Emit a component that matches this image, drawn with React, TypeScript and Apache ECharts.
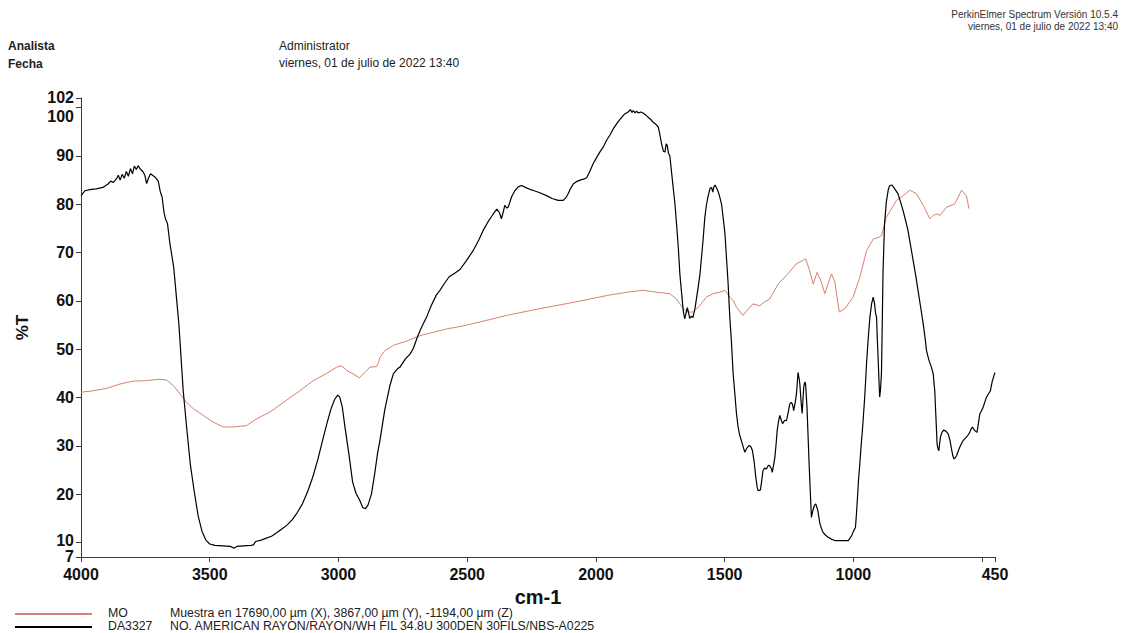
import React, { useEffect, useRef } from "react";
import * as echarts from "echarts";

// ---- Data ----
const daWavenumbers = [
  4000, 3985, 3960, 3940, 3915, 3895, 3885, 3875, 3862, 3855, 3848, 3840, 3832, 3824, 3816, 3808, 3800, 3793, 3785, 3778,
  3770, 3760, 3752, 3745, 3738, 3730, 3722, 3712, 3700, 3692, 3685, 3678, 3672, 3664, 3655, 3640, 3620, 3603, 3590, 3575,
  3560, 3545, 3530, 3515, 3500, 3480, 3450, 3420, 3405, 3395, 3370, 3340, 3330, 3322, 3300, 3280, 3260, 3240, 3220, 3200,
  3180, 3160, 3140, 3120, 3100, 3080, 3060, 3045, 3030, 3015, 3003, 2995, 2985, 2975, 2960, 2945, 2932, 2918, 2905, 2895,
  2885, 2872, 2860, 2848, 2839, 2820, 2800, 2787, 2770, 2761, 2740, 2722, 2710, 2690, 2675, 2658, 2640, 2620, 2606, 2590,
  2570, 2550, 2528, 2505, 2477, 2455, 2438, 2420, 2399, 2385, 2375, 2367, 2360, 2354, 2346, 2340, 2328, 2315, 2302, 2289,
  2270, 2257, 2240, 2218, 2192, 2170, 2147, 2127, 2115, 2108, 2098, 2088, 2075, 2062, 2048, 2036, 2024, 2011, 1998, 1985,
  1970, 1959, 1945, 1933, 1915, 1900, 1888, 1875, 1866, 1860, 1855, 1848, 1842, 1836, 1826, 1817, 1807, 1797, 1788, 1778,
  1768, 1758, 1752, 1745, 1738, 1732, 1727, 1723, 1718, 1713, 1706, 1700, 1693, 1687, 1680, 1674, 1667, 1661, 1655, 1650,
  1645, 1640, 1636, 1630, 1623, 1615, 1603, 1596, 1590, 1584, 1577, 1571, 1565, 1557, 1551, 1546, 1542, 1537, 1532, 1525,
  1519, 1512, 1506, 1499, 1493, 1487, 1480, 1474, 1467, 1460, 1454, 1448, 1442, 1435, 1428, 1422, 1413, 1405, 1398, 1392,
  1385, 1379, 1374, 1370, 1361, 1356, 1351, 1345, 1338, 1330, 1325, 1318, 1315, 1310, 1305, 1300, 1296, 1291, 1286, 1280,
  1275, 1267, 1260, 1253, 1247, 1241, 1236, 1232, 1226, 1221, 1218, 1215, 1211, 1208, 1203, 1199, 1196, 1193, 1189, 1186,
  1183, 1180, 1176, 1172, 1167, 1163, 1158, 1154, 1150, 1146, 1142, 1138, 1134, 1130, 1124, 1118, 1108, 1098, 1085, 1072,
  1050, 1035, 1020, 1013, 1007, 1000, 992, 988, 984, 980, 975, 970, 965, 960, 956, 952, 949, 943, 936, 929,
  923, 918, 914, 910, 907, 904, 901, 898, 895, 891, 888, 885, 882, 879, 872, 865, 860, 856, 851, 846,
  837, 827, 817, 807, 798, 788, 778, 768, 758, 749, 739, 729, 722, 716, 707, 697, 690, 684, 680, 677,
  675, 671, 668, 665, 662, 656, 649, 640, 632, 625, 619, 614, 610, 605, 599, 593, 587, 580, 574, 567,
  561, 554, 548, 543, 538, 533, 529, 525, 520, 514, 509, 503, 496, 490, 483, 475, 468, 464, 460, 457,
  454, 450,
];
const daTransmittance = [
  81.8, 82.8, 83.1, 83.2, 83.5, 84.2, 84.8, 84.5, 85.3, 86.0, 85.0, 86.2, 85.4, 86.8, 85.8, 87.4, 86.3, 87.9, 87.2, 88.0,
  87.3, 86.8, 86.0, 84.3, 85.4, 86.3, 86.0, 85.6, 84.8, 82.6, 81.5, 78.5, 77.0, 76.0, 72.0, 67.0, 55.3, 41.4, 34.0, 26.0,
  20.5, 15.5, 12.3, 10.5, 9.7, 9.4, 9.3, 9.2, 8.8, 9.2, 9.3, 9.4, 9.5, 10.2, 10.5, 10.9, 11.3, 12.0, 12.8, 13.6,
  14.7, 16.2, 18.0, 20.5, 23.5, 27.2, 31.5, 34.6, 37.5, 39.6, 40.5, 40.1, 38.0, 34.0, 28.5, 22.5, 20.2, 18.8, 17.2, 17.0,
  17.8, 20.0, 24.0, 28.5, 31.1, 37.5, 42.5, 44.9, 46.0, 46.3, 48.0, 49.0, 50.1, 53.0, 54.8, 56.6, 59.0, 61.2, 62.2, 63.5,
  65.0, 65.7, 66.5, 68.2, 70.4, 72.6, 74.6, 76.3, 78.0, 79.0, 78.3, 77.0, 78.4, 79.8, 79.2, 79.5, 81.5, 82.8, 83.6, 83.9,
  83.4, 83.1, 82.8, 82.4, 81.8, 81.2, 80.8, 80.8, 81.5, 82.2, 83.3, 84.2, 84.7, 85.0, 85.2, 85.5, 86.8, 88.4, 89.6, 90.8,
  92.0, 93.2, 94.4, 95.6, 97.0, 98.0, 98.7, 99.1, 99.6, 99.0, 99.4, 98.9, 99.3, 98.9, 99.1, 98.9, 98.5, 98.0, 97.6, 97.0,
  96.6, 96.0, 94.5, 92.5, 91.0, 90.8, 92.5, 92.2, 90.5, 90.1, 86.5, 83.5, 80.0, 76.0, 71.0, 65.6, 61.5, 58.0, 56.3, 57.5,
  58.6, 57.5, 56.4, 56.8, 56.6, 58.5, 62.8, 65.5, 69.0, 72.5, 77.3, 79.8, 81.5, 83.3, 83.5, 82.5, 83.6, 84.0, 83.4, 82.6,
  81.5, 80.0, 77.3, 74.0, 69.0, 64.0, 56.6, 51.8, 44.9, 40.5, 36.6, 34.0, 32.3, 31.1, 29.8, 28.7, 29.6, 30.1, 29.8, 29.0,
  26.5, 23.5, 21.5, 20.7, 20.9, 22.8, 24.9, 25.4, 25.2, 26.0, 25.9, 25.2, 24.5, 26.0, 27.6, 30.5, 33.2, 35.0, 36.3, 35.3,
  34.6, 35.3, 35.2, 37.0, 38.7, 39.0, 38.5, 37.3, 39.0, 40.8, 43.0, 45.2, 44.0, 42.8, 39.0, 36.7, 39.5, 42.1, 43.2, 43.0,
  40.5, 37.7, 32.0, 26.3, 20.0, 15.2, 16.5, 17.3, 17.8, 18.0, 17.3, 16.6, 15.2, 13.9, 12.9, 12.1, 11.5, 11.1, 10.7, 10.4,
  10.4, 10.4, 10.4, 10.9, 11.4, 12.3, 13.1, 16.0, 19.4, 23.0, 26.3, 30.0, 33.2, 37.0, 40.1, 44.0, 47.0, 51.8, 56.6, 59.5,
  60.8, 59.5, 57.5, 56.6, 52.0, 48.3, 44.0, 40.1, 41.5, 44.9, 55.0, 65.6, 71.0, 76.0, 80.5, 82.9, 83.8, 83.9, 84.0, 83.7,
  83.0, 82.2, 80.5, 78.7, 76.8, 74.6, 71.5, 68.4, 65.3, 62.2, 58.8, 55.3, 52.5, 49.7, 47.8, 46.3, 44.9, 41.4, 36.6, 33.0,
  30.4, 29.3, 29.0, 30.5, 31.8, 32.8, 33.3, 33.0, 32.5, 31.2, 29.4, 28.0, 27.3, 27.5, 28.0, 28.9, 29.7, 30.5, 31.1, 31.5,
  31.8, 32.3, 32.8, 33.5, 33.9, 33.5, 33.2, 33.0, 32.8, 34.8, 36.6, 37.2, 38.0, 39.0, 40.1, 40.8, 41.4, 42.5, 43.5, 44.0,
  44.6, 45.2,
];

const moWavenumbers = [
  4000, 3954, 3900, 3849, 3797, 3745, 3693, 3667, 3642, 3616, 3590, 3564, 3525, 3486, 3447, 3409, 3357, 3318, 3266, 3214,
  3150, 3098, 3046, 3007, 2988, 2968, 2943, 2919, 2897, 2878, 2852, 2845, 2839, 2820, 2787, 2735, 2684, 2632, 2580, 2528,
  2477, 2347, 2218, 2088, 1959, 1881, 1817, 1765, 1713, 1687, 1661, 1642, 1622, 1597, 1571, 1545, 1519, 1499, 1480, 1467,
  1454, 1429, 1410, 1390, 1364, 1345, 1325, 1292, 1260, 1221, 1195, 1185, 1172, 1156, 1141, 1125, 1111, 1085, 1072, 1055,
  1033, 1001, 975, 949, 923, 900, 891, 872, 833, 814, 781, 755, 729, 703, 690, 677, 664, 638, 606, 580,
  561, 551,
];
const moTransmittance = [
  41.1, 41.4, 41.9, 42.8, 43.4, 43.5, 43.8, 43.6, 42.5, 40.8, 39.0, 37.7, 36.3, 34.9, 33.9, 33.9, 34.2, 35.6, 37.0, 39.0,
  41.4, 43.5, 45.0, 46.3, 46.6, 45.6, 44.9, 44.1, 45.2, 46.3, 46.4, 47.2, 48.3, 49.7, 50.8, 51.7, 52.8, 53.5, 54.2, 54.7,
  55.3, 57.0, 58.4, 59.7, 61.1, 61.8, 62.2, 61.8, 61.5, 60.4, 58.4, 57.7, 57.7, 59.0, 60.8, 61.5, 61.8, 62.2, 60.8, 60.1,
  58.7, 57.0, 58.2, 59.4, 59.0, 59.8, 60.4, 63.5, 65.3, 67.7, 68.4, 68.7, 66.6, 63.5, 65.9, 64.0, 61.5, 65.6, 63.9, 57.7,
  58.4, 60.8, 64.9, 70.4, 72.8, 73.2, 73.5, 77.3, 80.8, 81.5, 82.9, 82.2, 79.8, 77.0, 77.7, 78.0, 77.7, 79.4, 80.1, 82.9,
  81.8, 79.1,
];

const xTickValues = [4000, 3500, 3000, 2500, 2000, 1500, 1000, 500, 450];
const xLabelValues = [4000, 3500, 3000, 2500, 2000, 1500, 1000, 450];
const yTickValues = [7, 10, 20, 30, 40, 50, 60, 70, 80, 90, 100, 102];
const yInnerLabels = [20, 30, 40, 50, 60, 70, 80, 90];
const yEndLabels = [7, 10, 100, 102];

const seriesNames = ["MO", "DA3327"];
const seriesDescriptions = [
  "Muestra en 17690,00 µm (X), 3867,00 µm (Y), -1194,00 µm (Z)",
  "NO. AMERICAN RAYON/RAYON/WH FIL 34.8U 300DEN 30FILS/NBS-A0225",
];

const RED = "#d4826c";
const AXIS = "#3a3a3a";
const TICK_FONT = "'Liberation Sans', Arial, sans-serif";

export default function App() {
  const ref = useRef<HTMLDivElement>(null);

  useEffect(() => {
    if (!ref.current) return;
    const chart = echarts.init(ref.current, null, { renderer: "svg" });
    const moData = moWavenumbers.map((w, i) => [w, moTransmittance[i]]);
    const daData = daWavenumbers.map((w, i) => [w, daTransmittance[i]]);

    const headerStyle = { fontFamily: TICK_FONT, fontSize: 12, fill: "#222" };
    const legendStyle = { fontFamily: TICK_FONT, fontSize: 12.3, fill: "#222" };
    const tickLabel = { fontFamily: TICK_FONT, fontSize: 16, fontWeight: "bold", color: "#111" };
    const endLabelStyle: Record<number, string> = { 7: "low", 10: "ten", 100: "mid", 102: "high" };

    chart.setOption({
      animation: false,
      backgroundColor: "#ffffff",
      grid: { left: 81, right: 127, top: 98, bottom: 76, containLabel: false },
      xAxis: {
        type: "value",
        min: 450,
        max: 4000,
        inverse: true,
        name: "cm-1",
        nameLocation: "middle",
        nameGap: 22,
        nameTextStyle: { fontFamily: TICK_FONT, fontSize: 20, fontWeight: "bold", color: "#111" },
        axisLine: { show: true, lineStyle: { color: AXIS, width: 1 } },
        axisTick: { show: true, inside: false, length: 5, customValues: xTickValues, lineStyle: { color: AXIS } },
        axisLabel: {
          customValues: xLabelValues,
          showMinLabel: true,
          showMaxLabel: true,
          hideOverlap: false,
          formatter: (v: number) => String(v),
          margin: 9,
          ...tickLabel,
        },
        splitLine: { show: false },
      },
      yAxis: [
        {
          type: "value",
          min: 7,
          max: 102,
          name: "%T",
          nameLocation: "middle",
          nameRotate: 90,
          nameGap: 50,
          nameTextStyle: { fontFamily: TICK_FONT, fontSize: 17, fontWeight: "bold", color: "#111" },
          axisLine: { show: true, lineStyle: { color: AXIS, width: 1 } },
          axisTick: { show: true, length: 5, customValues: yTickValues, lineStyle: { color: AXIS } },
          axisLabel: {
            customValues: yInnerLabels,
            hideOverlap: false,
            formatter: (v: number) => String(v),
            margin: 7,
            ...tickLabel,
          },
          splitLine: { show: false },
        },
        {
          type: "value",
          position: "left",
          min: 7,
          max: 102,
          axisLine: { show: false },
          axisTick: { show: false },
          axisLabel: {
            customValues: yEndLabels,
            showMinLabel: true,
            showMaxLabel: true,
            hideOverlap: false,
            formatter: (v: number) => `{${endLabelStyle[v]}|${v}}`,
            margin: 7,
            ...tickLabel,
            rich: {
              low: { ...tickLabel, padding: [0, 0, 1, 0] },
              ten: { ...tickLabel, padding: [0, 0, 5, 0] },
              mid: { ...tickLabel, padding: [17, 0, 0, 0] },
              high: { ...tickLabel, padding: [0, 0, 2, 0] },
            },
          },
          splitLine: { show: false },
        },
      ],
      series: [
        {
          name: seriesNames[0],
          type: "line",
          data: moData,
          yAxisIndex: 0,
          showSymbol: false,
          symbol: "none",
          lineStyle: { color: RED, width: 1 },
          z: 2,
        },
        {
          name: seriesNames[1],
          type: "line",
          data: daData,
          yAxisIndex: 0,
          showSymbol: false,
          symbol: "none",
          lineStyle: { color: "#000000", width: 1.2 },
          z: 3,
        },
      ],
      graphic: [
        { type: "text", left: 8, top: 40, style: { ...headerStyle, text: "Analista", fontWeight: "bold" } },
        { type: "text", left: 8, top: 58, style: { ...headerStyle, text: "Fecha", fontWeight: "bold" } },
        { type: "text", left: 279, top: 40, style: { ...headerStyle, text: "Administrator" } },
        { type: "text", left: 279, top: 57, style: { ...headerStyle, text: "viernes, 01 de julio de 2022 13:40" } },
        {
          type: "text",
          right: 4,
          top: 9,
          style: { fontFamily: TICK_FONT, fontSize: 10, fill: "#333", text: "PerkinElmer Spectrum Versión 10.5.4" },
        },
        {
          type: "text",
          right: 4,
          top: 21,
          style: { fontFamily: TICK_FONT, fontSize: 10, fill: "#333", text: "viernes, 01 de julio de 2022 13:40" },
        },
        { type: "line", shape: { x1: 15, y1: 614, x2: 92, y2: 614 }, style: { stroke: RED, lineWidth: 2 } },
        { type: "line", shape: { x1: 15, y1: 627, x2: 92, y2: 627 }, style: { stroke: "#000", lineWidth: 2 } },
        { type: "text", left: 108, top: 607, style: { ...legendStyle, text: seriesNames[0] } },
        { type: "text", left: 108, top: 620, style: { ...legendStyle, text: seriesNames[1] } },
        { type: "text", left: 170, top: 607, style: { ...legendStyle, text: seriesDescriptions[0] } },
        { type: "text", left: 170, top: 620, style: { ...legendStyle, text: seriesDescriptions[1] } },
      ],
    });
    return () => chart.dispose();
  }, []);

  return (
    <div
      ref={ref}
      style={{ position: "absolute", left: 0, top: 0, width: 1122, height: 633, background: "#fff" }}
    />
  );
}
